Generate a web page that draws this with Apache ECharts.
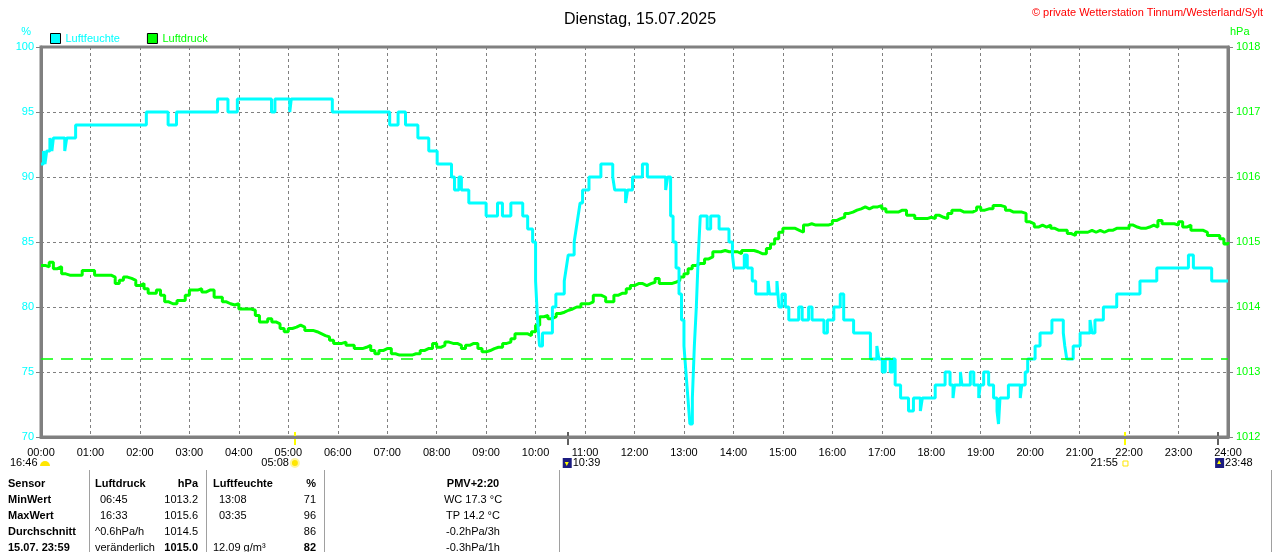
<!DOCTYPE html>
<html>
<head>
<meta charset="utf-8">
<title>Dienstag, 15.07.2025</title>
<script src="https://cdn.jsdelivr.net/npm/echarts@6/dist/echarts.min.js"></script>
<style>
  html, body { margin: 0; padding: 0; background: #fff; }
  #chart { width: 1280px; height: 552px; }
</style>
</head>
<body>
<div id="chart"></div>
<script>
// x axis labels (one per hour)
var hourLabels = ["00:00","01:00","02:00","03:00","04:00","05:00","06:00","07:00","08:00","09:00","10:00","11:00",
  "12:00","13:00","14:00","15:00","16:00","17:00","18:00","19:00","20:00","21:00","22:00","23:00","24:00"];

// Luftfeuchte: change points (hour of day) and the value that holds from there on
var humidityTimes = [0, 0.05, 0.08, 0.115, 0.18, 0.22, 0.25, 0.48, 0.52, 0.70, 2.13, 2.57, 2.74, 3.57, 3.78, 3.97,
  4.66, 4.73, 5.03, 5.06, 5.89, 7.05, 7.22, 7.37, 7.62, 7.84, 8.01, 8.30, 8.36, 8.45, 8.50, 8.65,
  9.0, 9.23, 9.33, 9.50, 9.74, 9.84, 9.94, 10.0, 10.04, 10.08, 10.14, 10.34, 10.41, 10.58, 10.62, 10.66,
  10.78, 10.82, 10.86, 10.90, 10.95, 11.08, 11.32, 11.56, 11.60, 11.82, 11.86, 11.96, 12.16, 12.26, 12.63, 12.67,
  12.73, 12.78, 12.84, 12.90, 12.95, 13.0, 13.04, 13.08, 13.12, 13.17, 13.21, 13.25, 13.29, 13.33, 13.47, 13.54,
  13.71, 13.91, 13.98, 14.01, 14.22, 14.28, 14.38, 14.45, 14.70, 14.73, 14.88, 14.92, 14.98, 15.05, 15.12, 15.32,
  15.39, 15.52, 15.59, 15.83, 15.90, 16.03, 16.16, 16.23, 16.43, 16.77, 16.90, 16.94, 17.01, 17.07, 17.17, 17.22,
  17.27, 17.38, 17.54, 17.64, 17.78, 17.82, 18.08, 18.28, 18.38, 18.44, 18.47, 18.59, 18.62, 18.79, 18.86, 18.96,
  18.99, 19.06, 19.16, 19.26, 19.33, 19.36, 19.39, 19.56, 19.80, 19.83, 19.90, 19.95, 20.10, 20.20, 20.44, 20.67,
  20.70, 20.74, 20.87, 21.01, 21.21, 21.25, 21.31, 21.48, 21.75, 22.22, 22.56, 23.20, 23.30, 23.67, 24.0];
var humidityValues = [91, 92, 91, 92, 93, 92, 93, 92, 93, 94, 95, 94, 95, 96, 95, 96,
  95, 96, 95, 96, 95, 94, 95, 94, 93, 92, 91, 90, 89, 90, 89, 88,
  87, 88, 87, 88, 87, 86, 85, 82, 79, 77, 78, 80, 81, 82, 83, 84,
  85, 86, 87, 88, 89, 90, 91, 90, 89, 88, 89, 90, 91, 90, 89, 90,
  87, 85, 83, 81, 79, 77, 75, 73, 71, 73, 77, 80, 84, 87, 86, 87,
  86, 85, 84, 83, 84, 83, 82, 81, 82, 81, 82, 80, 81, 80, 79, 80,
  79, 80, 79, 78, 79, 80, 81, 79, 78, 76, 77, 76, 75, 76, 75, 76,
  74, 73, 72, 73, 72, 73, 74, 75, 74, 73, 74, 75, 74, 75, 74, 73,
  74, 75, 74, 73, 72, 71, 73, 74, 73, 74, 75, 76, 77, 78, 79, 78,
  77, 76, 77, 78, 79, 78, 79, 80, 81, 82, 83, 84, 83, 82, 82];

// Luftdruck: one reading every 5 minutes, 00:00 .. 24:00 (12 per row = 1 hour)
var pressureValues = [
  1014.64, 1014.62, 1014.69, 1014.59, 1014.62, 1014.51, 1014.49, 1014.49, 1014.49, 1014.49, 1014.56, 1014.56,
  1014.56, 1014.49, 1014.49, 1014.49, 1014.49, 1014.46, 1014.36, 1014.41, 1014.46, 1014.44, 1014.41, 1014.33,
  1014.36, 1014.28, 1014.21, 1014.21, 1014.26, 1014.18, 1014.08, 1014.05, 1014.05, 1014.10, 1014.10, 1014.18,
  1014.26, 1014.26, 1014.28, 1014.23, 1014.26, 1014.26, 1014.15, 1014.15, 1014.08, 1014.05, 1014.03, 1014.05,
  1013.97, 1013.97, 1013.97, 1013.95, 1013.87, 1013.77, 1013.77, 1013.82, 1013.77, 1013.74, 1013.67, 1013.62,
  1013.67, 1013.69, 1013.72, 1013.69, 1013.64, 1013.64, 1013.62, 1013.59, 1013.56, 1013.54, 1013.49, 1013.44,
  1013.44, 1013.46, 1013.41, 1013.41, 1013.36, 1013.36, 1013.38, 1013.41, 1013.33, 1013.28, 1013.33, 1013.36,
  1013.36, 1013.28, 1013.26, 1013.26, 1013.26, 1013.26, 1013.28, 1013.28, 1013.33, 1013.36, 1013.36, 1013.44,
  1013.38, 1013.41, 1013.46, 1013.44, 1013.44, 1013.41, 1013.36, 1013.41, 1013.44, 1013.44, 1013.36, 1013.31,
  1013.33, 1013.36, 1013.38, 1013.38, 1013.44, 1013.46, 1013.51, 1013.59, 1013.59, 1013.59, 1013.56, 1013.62,
  1013.72, 1013.85, 1013.87, 1013.82, 1013.85, 1013.90, 1013.92, 1013.95, 1013.97, 1014.00, 1014.00, 1014.05,
  1014.05, 1014.08, 1014.18, 1014.18, 1014.15, 1014.08, 1014.08, 1014.18, 1014.21, 1014.21, 1014.28, 1014.33,
  1014.36, 1014.36, 1014.33, 1014.36, 1014.38, 1014.44, 1014.36, 1014.36, 1014.36, 1014.38, 1014.41, 1014.46,
  1014.51, 1014.59, 1014.64, 1014.67, 1014.67, 1014.74, 1014.77, 1014.85, 1014.85, 1014.87, 1014.85, 1014.85,
  1014.85, 1014.82, 1014.87, 1014.87, 1014.87, 1014.85, 1014.82, 1014.82, 1014.90, 1014.97, 1015.05, 1015.15,
  1015.21, 1015.21, 1015.21, 1015.18, 1015.15, 1015.26, 1015.28, 1015.26, 1015.26, 1015.26, 1015.26, 1015.28,
  1015.33, 1015.36, 1015.38, 1015.44, 1015.46, 1015.49, 1015.51, 1015.54, 1015.51, 1015.54, 1015.54, 1015.56,
  1015.51, 1015.46, 1015.46, 1015.46, 1015.49, 1015.49, 1015.41, 1015.41, 1015.36, 1015.36, 1015.36, 1015.38,
  1015.36, 1015.41, 1015.38, 1015.36, 1015.44, 1015.49, 1015.49, 1015.46, 1015.46, 1015.46, 1015.49, 1015.54,
  1015.49, 1015.51, 1015.51, 1015.56, 1015.56, 1015.54, 1015.49, 1015.46, 1015.46, 1015.46, 1015.44, 1015.31,
  1015.28, 1015.23, 1015.26, 1015.23, 1015.26, 1015.21, 1015.18, 1015.18, 1015.18, 1015.13, 1015.10, 1015.15,
  1015.15, 1015.15, 1015.18, 1015.15, 1015.18, 1015.15, 1015.18, 1015.18, 1015.21, 1015.21, 1015.21, 1015.21,
  1015.26, 1015.23, 1015.21, 1015.21, 1015.23, 1015.26, 1015.23, 1015.33, 1015.28, 1015.28, 1015.28, 1015.26,
  1015.31, 1015.23, 1015.26, 1015.18, 1015.18, 1015.18, 1015.15, 1015.10, 1015.10, 1015.10, 1015.05, 1014.97,
  1015.00];
var pressureMin = 1013.2;

// Sonne / Mond Zeiten unter der Achse
var sunMoonTimes = ["16:46", "05:08", "10:39", "21:55", "23:48"];

// Tabelle unten
var tableHeader = ["Sensor", "Luftdruck", "hPa", "Luftfeuchte", "%", "PMV+2:20"];
var tableRows = [
  ["MinWert", "06:45", "1013.2", "13:08", "71", "WC 17.3 °C"],
  ["MaxWert", "16:33", "1015.6", "03:35", "96", "TP 14.2 °C"],
  ["Durchschnitt", "^0.6hPa/h", "1014.5", "", "86", "-0.2hPa/3h"],
  ["15.07. 23:59", "veränderlich", "1015.0", "12.09 g/m³", "82", "-0.3hPa/1h"]
];

var CYAN = "#00ffff";
var GREEN = "#00ff00";
var GREY = "#808080";
var FONT = "Liberation Sans, Arial, sans-serif";

var humidityData = humidityTimes.map(function (t, i) { return [t, humidityValues[i]]; });
var pressureData = pressureValues.map(function (v, i) { return [i / 12, v]; });

function toHours(s) {
  var p = s.split(":");
  return +p[0] + (+p[1]) / 60;
}

var myChart = echarts.init(document.getElementById("chart"));

var option = {
  animation: false,
  backgroundColor: "#fff",
  textStyle: { fontFamily: FONT },
  title: [
    {
      text: "Dienstag, 15.07.2025",
      left: "center",
      top: 7,
      textStyle: { fontSize: 16, fontWeight: "normal", color: "#000", fontFamily: FONT }
    },
    {
      text: "© private Wetterstation Tinnum/Westerland/Sylt",
      right: 12,
      top: 2,
      textStyle: { fontSize: 11, fontWeight: "normal", color: "#ff0000", fontFamily: FONT }
    }
  ],
  legend: {
    left: 50,
    top: 33,
    padding: 0,
    icon: "rect",
    itemWidth: 10,
    itemHeight: 10,
    itemGap: 27,
    itemStyle: { borderColor: "#000", borderWidth: 1 },
    textStyle: { fontSize: 11, fontFamily: FONT },
    data: [
      { name: "Luftfeuchte", textStyle: { color: CYAN } },
      { name: "Luftdruck", textStyle: { color: GREEN } }
    ]
  },
  grid: {
    left: 41,
    right: 52,
    top: 47,
    bottom: 115,
    show: true,
    borderColor: GREY,
    borderWidth: 3
  },
  xAxis: {
    type: "value",
    min: 0,
    max: 24,
    interval: 1,
    axisLine: { show: true, lineStyle: { color: GREY, width: 3 } },
    axisTick: { show: false },
    axisLabel: {
      color: "#000",
      fontSize: 11,
      margin: 10,
      showMinLabel: true,
      showMaxLabel: true,
      formatter: function (v) { return hourLabels[Math.round(v)]; }
    },
    splitLine: { show: true, lineStyle: { color: GREY, width: 1, type: [3, 3] } }
  },
  yAxis: [
    {
      type: "value",
      position: "left",
      min: 70,
      max: 100,
      interval: 5,
      name: "%",
      nameLocation: "end",
      nameGap: 10,
      nameTextStyle: { color: CYAN, fontSize: 11, align: "right", padding: [0, 10, 0, 0] },
      axisLine: { show: true, lineStyle: { color: GREY, width: 3 } },
      axisTick: { show: true, length: 5, lineStyle: { color: GREY } },
      axisLabel: { color: CYAN, fontSize: 11, margin: 7, formatter: function (v) { return String(v); } },
      splitLine: { show: true, lineStyle: { color: GREY, width: 1, type: [3, 3] } }
    },
    {
      type: "value",
      position: "right",
      min: 1012,
      max: 1018,
      interval: 1,
      name: "hPa",
      nameLocation: "end",
      nameGap: 10,
      nameTextStyle: { color: GREEN, fontSize: 11, align: "left", padding: [0, 0, 0, 2] },
      axisLine: { show: true, lineStyle: { color: GREY, width: 3 } },
      axisTick: { show: true, length: 5, lineStyle: { color: GREY } },
      axisLabel: { color: GREEN, fontSize: 11, margin: 8, formatter: function (v) { return String(v); } },
      splitLine: { show: false }
    }
  ],
  series: [
    {
      name: "Luftdruck",
      type: "line",
      yAxisIndex: 1,
      step: "end",
      showSymbol: false,
      color: GREEN,
      lineStyle: { color: GREEN, width: 3 },
      data: pressureData,
      markLine: {
        silent: true,
        symbol: "none",
        label: { show: false },
        lineStyle: { color: GREEN, width: 1.5, type: [12, 8] },
        data: [{ yAxis: pressureMin }]
      }
    },
    {
      name: "Luftfeuchte",
      type: "line",
      yAxisIndex: 0,
      step: "end",
      showSymbol: false,
      color: CYAN,
      lineStyle: { color: CYAN, width: 3 },
      data: humidityData
    }
  ]
};

myChart.setOption(option);

// Fußzeile: Sonne/Mond-Marken und Tabelle
(function () {
  var g = [];
  var axisY = 437;
  var labelY = 463;
  function px(t) { return myChart.convertToPixel({ xAxisIndex: 0 }, toHours(t)); }

  // Markierungen an der Zeitachse
  [[sunMoonTimes[1], "#ffff00"], [sunMoonTimes[3], "#ffff00"], [sunMoonTimes[2], "#606060"], [sunMoonTimes[4], "#606060"]]
    .forEach(function (m) {
      var x = Math.round(px(m[0]));
      g.push({ type: "line", shape: { x1: x, y1: axisY - 5, x2: x, y2: axisY + 8 }, style: { stroke: m[1], lineWidth: 2 } });
    });

  var txt = { fontSize: 11, fill: "#000", fontFamily: FONT, verticalAlign: "middle" };
  // Mond 16:46
  g.push({ type: "text", x: 10, y: labelY, style: Object.assign({ text: sunMoonTimes[0], align: "left" }, txt) });
  g.push({ type: "sector", shape: { cx: 45, cy: labelY + 3, r0: 0, r: 5, startAngle: Math.PI, endAngle: 2 * Math.PI },
    style: { fill: "#ffe600" } });
  // Sonnenaufgang
  var xs = px(sunMoonTimes[1]);
  g.push({ type: "text", x: xs - 6, y: labelY, style: Object.assign({ text: sunMoonTimes[1], align: "right" }, txt) });
  g.push({ type: "circle", shape: { cx: xs, cy: labelY, r: 4 }, style: { fill: "#ffe600", stroke: "#fff6a0", lineWidth: 2 } });
  // Mond 10:39
  var xm = px(sunMoonTimes[2]);
  g.push({ type: "rect", shape: { x: xm - 5, y: labelY - 5, width: 9, height: 10 }, style: { fill: "#1c1c80" } });
  g.push({ type: "polygon", shape: { points: [[xm - 3, labelY - 1], [xm + 1, labelY - 1], [xm - 1, labelY + 3]] }, style: { fill: "#ffff00" } });
  g.push({ type: "text", x: xm + 5, y: labelY, style: Object.assign({ text: sunMoonTimes[2], align: "left" }, txt) });
  // Sonnenuntergang
  var xu = px(sunMoonTimes[3]);
  g.push({ type: "text", x: xu - 7, y: labelY, style: Object.assign({ text: sunMoonTimes[3], align: "right" }, txt) });
  g.push({ type: "rect", shape: { x: xu - 2, y: labelY - 2, width: 5, height: 5 }, style: { fill: "#fff", stroke: "#ffe600", lineWidth: 1 } });
  // Mond 23:48
  var xa = px(sunMoonTimes[4]);
  g.push({ type: "rect", shape: { x: xa - 3, y: labelY - 5, width: 9, height: 10 }, style: { fill: "#1c1c80" } });
  g.push({ type: "polygon", shape: { points: [[xa - 1, labelY + 1], [xa + 3, labelY + 1], [xa + 1, labelY - 3]] }, style: { fill: "#ffff00" } });
  g.push({ type: "text", x: xa + 7, y: labelY, style: Object.assign({ text: sunMoonTimes[4], align: "left" }, txt) });

  // Tabelle
  var colX = [8, 95, 198, 213, 316, 473];
  var colAlign = ["left", "left", "right", "left", "right", "center"];
  var indent = [0, 5, 0, 6, 0, 0];
  var rowY = [484, 500, 516, 532, 548];
  [89, 206, 324, 559, 1271].forEach(function (x) {
    g.push({ type: "line", shape: { x1: x + 0.5, y1: 470, x2: x + 0.5, y2: 552 }, style: { stroke: "#a0a0a0", lineWidth: 1 } });
  });
  var allRows = [tableHeader].concat(tableRows);
  allRows.forEach(function (row, r) {
    row.forEach(function (cell, c) {
      if (!cell) return;
      var bold = r === 0 || c === 0 || (r === allRows.length - 1 && (c === 2 || c === 4));
      var x = colX[c] + (r === 0 ? 0 : (r < 3 ? indent[c] : 0));
      g.push({
        type: "text", x: x, y: rowY[r],
        style: { text: cell, align: colAlign[c], verticalAlign: "middle", fontSize: 11,
          fontWeight: bold ? "bold" : "normal", fill: "#000", fontFamily: FONT }
      });
    });
  });

  myChart.setOption({ graphic: g });
})();

window.addEventListener("resize", function () {
  myChart.resize();
});
</script>
</body>
</html>
